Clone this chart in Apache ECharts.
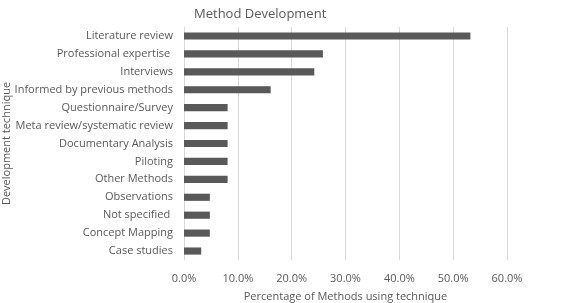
<!DOCTYPE html>
<html>
<head>
<meta charset="utf-8">
<script src="https://cdn.jsdelivr.net/npm/echarts@6/dist/echarts.min.js"></script>
<style>
html, body { margin: 0; padding: 0; background: #fff; }
#chart { width: 567px; height: 303px; }
</style>
</head>
<body>
<div id="chart"></div>
<script>
// categories, top to bottom
var techniques = ['Literature review', 'Professional expertise ', 'Interviews', 'Informed by previous methods',
	'Questionnaire/Survey', 'Meta review/systematic review', 'Documentary Analysis', 'Piloting',
	'Other Methods', 'Observations', 'Not specified ', 'Concept Mapping', 'Case studies'];
// percentage of methods using each technique
var percents = [53.2, 25.8, 24.2, 16.1, 8.1, 8.1, 8.1, 8.1, 8.1, 4.8, 4.8, 4.8, 3.2];

var font = '"Open Sans", "Noto Sans", sans-serif';
var grey = '#595959';

var chart = echarts.init(document.getElementById('chart'));
chart.setOption({
	animation: false,
	title: {
		text: 'Method Development',
		left: 189,
		top: 3,
		textStyle: { color: grey, fontFamily: font, fontSize: 13, fontWeight: 'normal' }
	},
	grid: { left: 184, right: 60, top: 27, bottom: 43, outerBoundsMode: 'none' },
	xAxis: {
		type: 'value',
		min: 0,
		max: 60,
		interval: 10,
		name: 'Percentage of Methods using technique',
		nameLocation: 'middle',
		nameGap: 31,
		nameMoveOverlap: false,
		nameTextStyle: { color: grey, fontFamily: font, fontSize: 11 },
		axisLine: { show: false },
		axisTick: { show: false },
		axisLabel: {
			color: grey, fontFamily: font, fontSize: 11, margin: 13,
			formatter: function (v) { return v.toFixed(1) + '%'; }
		},
		splitLine: { lineStyle: { color: '#d9d9d9' } }
	},
	yAxis: {
		type: 'category',
		data: techniques,
		inverse: true,
		name: 'Development technique',
		nameLocation: 'middle',
		nameRotate: 90,
		nameGap: 172,
		nameMoveOverlap: false,
		nameTextStyle: { color: grey, fontFamily: font, fontSize: 11 },
		axisLine: { lineStyle: { color: '#d9d9d9' } },
		axisTick: { show: false },
		axisLabel: { color: grey, fontFamily: font, fontSize: 11, margin: 11, interval: 0 }
	},
	series: [{
		type: 'bar',
		data: percents,
		barWidth: '40%',
		itemStyle: { color: grey }
	}]
});
</script>
</body>
</html>
